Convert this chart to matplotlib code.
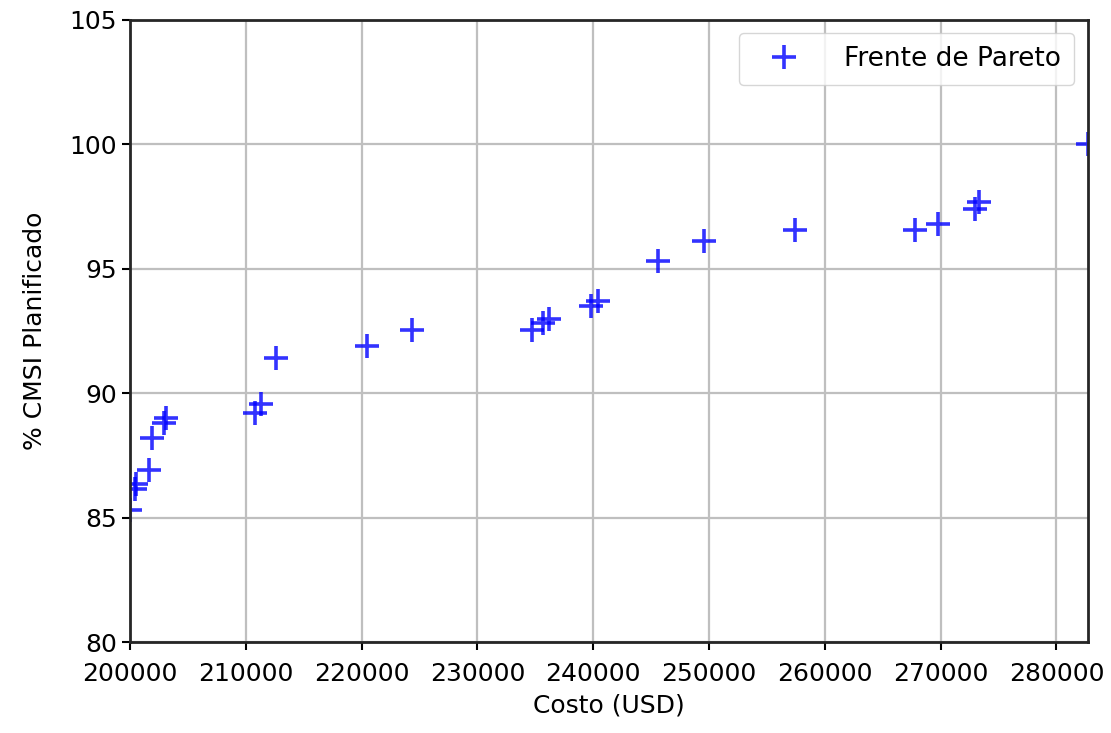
import numpy as np
from matplotlib import pyplot as plt

# frente de pareto: costo (USD) vs % CMSI planificado
costo = [200000, 200450, 200500, 201650, 201900, 202950, 203150,
         210800, 211300, 212600, 220450, 224350,
         234700, 235700, 236200, 239850, 240400,
         245600, 249550, 257450, 267800, 269800, 273000, 273300, 282700]
cmsi = [85.3, 86.15, 86.35, 86.9, 88.2, 88.8, 89.0,
        89.2, 89.55, 91.4, 91.9, 92.55,
        92.55, 92.8, 93.0, 93.5, 93.7,
        95.3, 96.1, 96.55, 96.55, 96.8, 97.4, 97.7, 100.0]

plt.rcParams['font.size'] = 18
fig = plt.figure(figsize=(11.11, 7.33), dpi=100)
ax = fig.add_axes([0.117, 0.124, 0.862, 0.849])
ax.plot(costo, cmsi, linestyle='none', marker='+', ms=17, mew=2.6,
        color='blue', alpha=0.8, label='Frente de Pareto')
ax.set_xlim(200000, 282700)
ax.set_ylim(80, 105)
ax.set_xticks(np.arange(200000, 280001, 10000))
ax.set_yticks(np.arange(80, 106, 5))
ax.set_xlabel('Costo (USD)', labelpad=6)
ax.set_ylabel('% CMSI Planificado', labelpad=16)
ax.grid(True, color='#bfbfbf', linewidth=1.6)
ax.set_axisbelow(True)
for s in ax.spines.values():
    s.set_linewidth(2)
    s.set_color('#262626')
ax.tick_params(width=1.5, length=6)
ax.tick_params(axis='x', pad=8)
ax.legend(loc='upper right', fontsize=19, handlelength=2.4,
          handletextpad=1.1, borderpad=0.5)
fig.savefig('out.png', dpi=100)
